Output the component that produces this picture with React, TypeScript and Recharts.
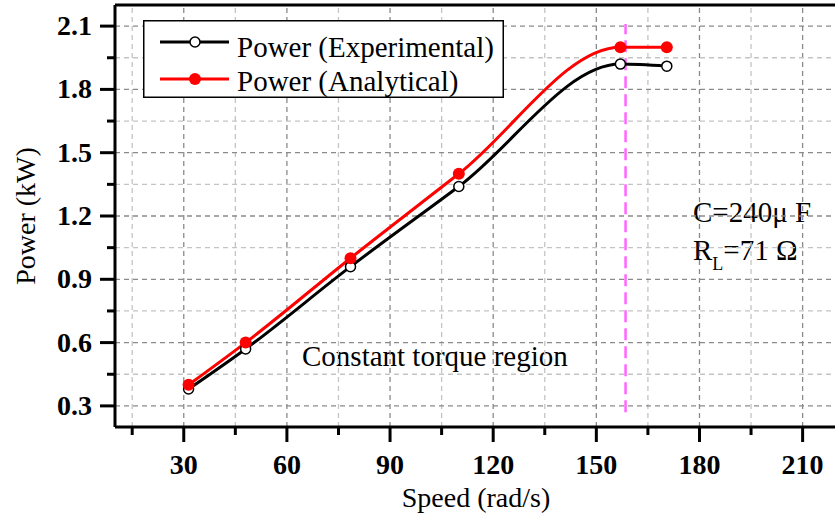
import React from "react";
import {
  LineChart,
  Line,
  XAxis,
  YAxis,
  ReferenceLine,
  Legend,
} from "recharts";

//========== Data ===========

const speed = [31.4, 48, 78.5, 110, 157, 170.5];
const powerExperimental = [0.38, 0.57, 0.96, 1.34, 1.92, 1.91];
const powerAnalytical = [0.4, 0.6, 1.0, 1.4, 2.0, 2.0];

const xTicks = [15, 30, 45, 60, 75, 90, 105, 120, 135, 150, 165, 180, 195, 210];
const xMajor = [30, 60, 90, 120, 150, 180, 210];
const yTicks = [0.3, 0.45, 0.6, 0.75, 0.9, 1.05, 1.2, 1.35, 1.5, 1.65, 1.8, 1.95, 2.1];
const yMajor = [0.3, 0.6, 0.9, 1.2, 1.5, 1.8, 2.1];
const yLabels = ["0.3", "0.6", "0.9", "1.2", "1.5", "1.8", "2.1"];

const markerSpeed = 158.5;

const data = speed.map((s, i) => ({
  speed: s,
  exp: powerExperimental[i],
  ana: powerAnalytical[i],
}));

const FONT = "'Liberation Serif', 'Times New Roman', serif";

//========== Ticks ===========

const XTick = (props: any) => {
  const { x, y, payload } = props;
  const major = xMajor.includes(payload.value);
  return (
    <g>
      <line x1={x} x2={x} y1={y} y2={y + (major ? 15 : 8)} stroke="#000" strokeWidth={3} />
      {major && (
        <text x={x} y={y + 47} textAnchor="middle" fontFamily={FONT} fontWeight="bold" fontSize={28} fill="#000">
          {payload.value}
        </text>
      )}
    </g>
  );
};

const YTick = (props: any) => {
  const { x, y, payload } = props;
  const idx = yMajor.findIndex((v) => Math.abs(v - payload.value) < 1e-6);
  const major = idx >= 0;
  return (
    <g>
      <line x1={x - (major ? 15 : 8)} x2={x} y1={y} y2={y} stroke="#000" strokeWidth={3} />
      {major && (
        <text x={x - 23} y={y + 9} textAnchor="end" fontFamily={FONT} fontWeight="bold" fontSize={28} fill="#000">
          {yLabels[idx]}
        </text>
      )}
    </g>
  );
};

//========== Legend ===========

const LegendBox = () => (
  <svg width={361} height={78} style={{ display: "block", overflow: "visible" }}>
    <rect x={0.75} y={0.75} width={359.5} height={76.5} fill="#fff" stroke="#000" strokeWidth={1.5} />
    <line x1={17} x2={86} y1={22} y2={22} stroke="#000" strokeWidth={3} />
    <circle cx={52} cy={22} r={5} fill="#fff" stroke="#000" strokeWidth={1.5} />
    <text x={94} y={37} fontFamily={FONT} fontSize={29} fill="#000">
      Power (Experimental)
    </text>
    <line x1={17} x2={86} y1={59} y2={59} stroke="#ff0000" strokeWidth={3} />
    <circle cx={52} cy={59} r={6} fill="#ff0000" />
    <text x={94} y={71} fontFamily={FONT} fontSize={29} fill="#000">
      Power (Analytical)
    </text>
  </svg>
);

//========== Chart ===========

export default function App() {
  return (
    <div
      style={{
        position: "absolute",
        left: 0,
        top: 0,
        width: 835,
        height: 517,
        overflow: "hidden",
        background: "#fff",
      }}
    >
      <LineChart
        width={850}
        height={517}
        data={data}
        margin={{ top: 5, right: 13, left: 0, bottom: 0 }}
      >
        {/* ====== Grid ====== */}
        {xTicks.map((v) => (
          <ReferenceLine
            key={"gx" + v}
            x={v}
            stroke={xMajor.includes(v) ? "#8a8a8a" : "#c4c4c4"}
            strokeWidth={1.3}
            strokeDasharray="5 4"
          />
        ))}
        {yTicks.map((v) => (
          <ReferenceLine
            key={"gy" + v}
            y={v}
            stroke={yMajor.some((m) => Math.abs(m - v) < 1e-6) ? "#8a8a8a" : "#c4c4c4"}
            strokeWidth={1.3}
            strokeDasharray="5 4"
          />
        ))}
        <ReferenceLine y={2.2} stroke="#000" strokeWidth={3} />

        <XAxis
          dataKey="speed"
          type="number"
          domain={[10, 220]}
          ticks={xTicks}
          interval={0}
          allowDataOverflow
          height={90}
          tickSize={0}
          tickMargin={0}
          tickLine={false}
          axisLine={{ stroke: "#000", strokeWidth: 3 }}
          tick={<XTick />}
        />
        <YAxis
          type="number"
          domain={[0.2, 2.2]}
          ticks={yTicks}
          interval={0}
          allowDataOverflow
          width={115}
          tickSize={0}
          tickMargin={0}
          tickLine={false}
          axisLine={{ stroke: "#000", strokeWidth: 3 }}
          tick={<YTick />}
        />

        <ReferenceLine
          segment={[
            { x: markerSpeed, y: 0.27 },
            { x: markerSpeed, y: 2.11 },
          ]}
          stroke="#ff66ff"
          strokeWidth={2.5}
          strokeDasharray="12 6"
        />

        <Line
          type="monotone"
          dataKey="exp"
          stroke="#000"
          strokeWidth={3}
          dot={{ r: 5, fill: "#fff", stroke: "#000", strokeWidth: 1.5 }}
          isAnimationActive={false}
        />
        <Line
          type="monotone"
          dataKey="ana"
          stroke="#ff0000"
          strokeWidth={3}
          dot={{ r: 6, fill: "#ff0000", stroke: "#ff0000", strokeWidth: 0 }}
          isAnimationActive={false}
        />

        <Legend
          layout="vertical"
          align="center"
          verticalAlign="middle"
          wrapperStyle={{ left: 143, top: 20, width: 361, height: 78 }}
          content={() => <LegendBox />}
        />

        {/* ====== Annotations ====== */}
        <text x={693} y={222} fontFamily={FONT} fontSize={29} fill="#000">
          C=240μ F
        </text>
        <text x={693} y={260} fontFamily={FONT} fontSize={29} fill="#000">
          R
          <tspan dy={10} fontSize={18}>L</tspan>
          <tspan dy={-10}>=71 Ω</tspan>
        </text>
        <text x={302} y={366} fontFamily={FONT} fontSize={29} fill="#000">
          Constant torque region
        </text>
        <text x={476} y={507} textAnchor="middle" fontFamily={FONT} fontSize={28} fill="#000">
          Speed (rad/s)
        </text>
        <text
          x={0}
          y={0}
          transform="translate(35, 216) rotate(-90)"
          textAnchor="middle"
          fontFamily={FONT}
          fontSize={28}
          fill="#000"
        >
          Power (kW)
        </text>
      </LineChart>
    </div>
  );
}
